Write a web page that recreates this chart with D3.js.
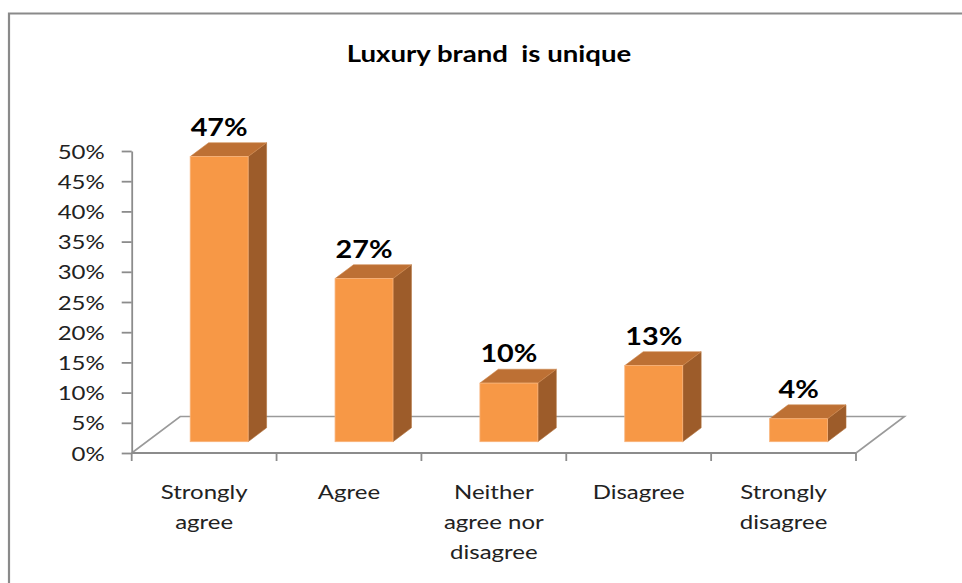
<!DOCTYPE html>
<html>
<head>
<meta charset="utf-8">
<script src="https://cdn.jsdelivr.net/npm/d3@7"></script>
<style>
  html, body { margin: 0; padding: 0; background: #fff; }
  svg { display: block; }
  text { font-family: Lato, "Open Sans", sans-serif; }
</style>
</head>
<body>
<svg id="chart" width="962" height="583"></svg>
<script>
// ---- data ----
const chartTitle = "Luxury brand  is unique";
const categories = [
  ["Strongly", "agree"],
  ["Agree"],
  ["Neither", "agree nor", "disagree"],
  ["Disagree"],
  ["Strongly", "disagree"]
];
const categoryKeys = ["Strongly agree", "Agree", "Neither agree nor disagree", "Disagree", "Strongly disagree"];
const values = [0.472, 0.270, 0.097, 0.126, 0.038];
const yTicks = [0, 0.05, 0.10, 0.15, 0.20, 0.25, 0.30, 0.35, 0.40, 0.45, 0.50];

// ---- layout ----
const SX = 1.2;                 // horizontal text stretch
const svg = d3.select("#chart");
const x0 = 131.7, x1 = 856, yBase = 453, yTop = 151;
const DX = 48.5, DY = 36.5;     // floor depth vector
const dFront = 0.31, dDepth = 0.38;

const x = d3.scaleBand().domain(categoryKeys).range([x0, x1]).paddingInner(0.6).paddingOuter(0.3);
const y = d3.scaleLinear().domain([0, 0.5]).range([yBase, yTop]);
const fmt = d3.format(".0%");

// border
svg.append("path")
  .attr("d", "M9,583 V13.5 H962")
  .attr("fill", "none").attr("stroke", "#8a8a8a").attr("stroke-width", 2.2);

// title
svg.append("text")
  .attr("transform", `translate(489,62) scale(${SX},1)`)
  .attr("text-anchor", "middle")
  .style("white-space", "pre")
  .attr("font-size", 23).attr("font-weight", "bold").attr("fill", "#000")
  .text(chartTitle);

// floor (back line + diagonals)
const floorColor = "#9a9a9a";
svg.append("path")
  .attr("d", `M${x0},${yBase} L${x0 + DX},${yBase - DY} H${x1 + DX} L${x1},${yBase}`)
  .attr("fill", "none").attr("stroke", floorColor).attr("stroke-width", 1.6);

// bars
const bars = svg.append("g");
categoryKeys.forEach((k, i) => {
  const v = values[i];
  const bx = x(k) + dFront * DX;
  const bw = x.bandwidth();
  const by0 = yBase - dFront * DY;
  const byt = y(v) - dFront * DY;
  const ddx = dDepth * DX, ddy = dDepth * DY;
  // side face
  bars.append("path")
    .attr("d", `M${bx + bw},${byt} L${bx + bw + ddx},${byt - ddy} L${bx + bw + ddx},${by0 - ddy} L${bx + bw},${by0} Z`)
    .attr("fill", "#9d5c2a").attr("stroke", "#b0703a").attr("stroke-width", 0.6);
  // top face
  bars.append("path")
    .attr("d", `M${bx},${byt} L${bx + bw},${byt} L${bx + bw + ddx},${byt - ddy} L${bx + ddx},${byt - ddy} Z`)
    .attr("fill", "#bd7034").attr("stroke", "#cf8a50").attr("stroke-width", 0.6);
  // front face
  bars.append("rect")
    .attr("x", bx).attr("y", byt).attr("width", bw).attr("height", by0 - byt)
    .attr("fill", "#f79846").attr("stroke", "#f9b37a").attr("stroke-width", 0.8);
  // data label
  svg.append("text")
    .attr("transform", `translate(${bx + bw / 2},${byt - ddy - 7}) scale(${SX},1)`)
    .attr("text-anchor", "middle")
    .attr("font-size", 24).attr("font-weight", "bold").attr("fill", "#000")
    .text(fmt(v));
});

// front x axis line + ticks
const axisColor = "#8c8c8c";
const xAxis = svg.append("g");
xAxis.append("line").attr("x1", x0).attr("x2", x1).attr("y1", yBase).attr("y2", yBase)
  .attr("stroke", axisColor).attr("stroke-width", 1.8);
const bounds = categoryKeys.map(k => x(k) - x.step() * x.paddingInner() / 2 * 0 - (x.step() - x.bandwidth()) / 2);
bounds.push(x1);
xAxis.selectAll("line.tick").data(bounds).join("line")
  .attr("class", "tick")
  .attr("x1", d => d).attr("x2", d => d).attr("y1", yBase).attr("y2", yBase + 8)
  .attr("stroke", axisColor).attr("stroke-width", 1.8);

// x labels
categoryKeys.forEach((k, i) => {
  const cx = x(k) + x.bandwidth() / 2;
  const t = svg.append("text")
    .attr("transform", `translate(${cx},499) scale(${SX},1)`)
    .attr("text-anchor", "middle")
    .attr("font-size", 20).attr("fill", "#222");
  categories[i].forEach((line, j) => {
    t.append("tspan").attr("x", 0).attr("y", j * 30).text(line);
  });
});

// y axis
const yAxisG = svg.append("g").attr("transform", `translate(${x0},0)`)
  .call(d3.axisLeft(y).tickValues(yTicks).tickFormat(fmt).tickSizeInner(10).tickSizeOuter(0));
yAxisG.select(".domain").attr("stroke", axisColor).attr("stroke-width", 1.8);
yAxisG.selectAll(".tick line").attr("stroke", axisColor).attr("stroke-width", 1.8);
yAxisG.selectAll(".tick text")
  .attr("x", null).attr("dy", null)
  .attr("transform", `translate(-27,7) scale(${SX},1)`)
  .attr("text-anchor", "end")
  .attr("font-family", "Lato, 'Open Sans', sans-serif")
  .attr("font-size", 20).attr("fill", "#222");
</script>
</body>
</html>
